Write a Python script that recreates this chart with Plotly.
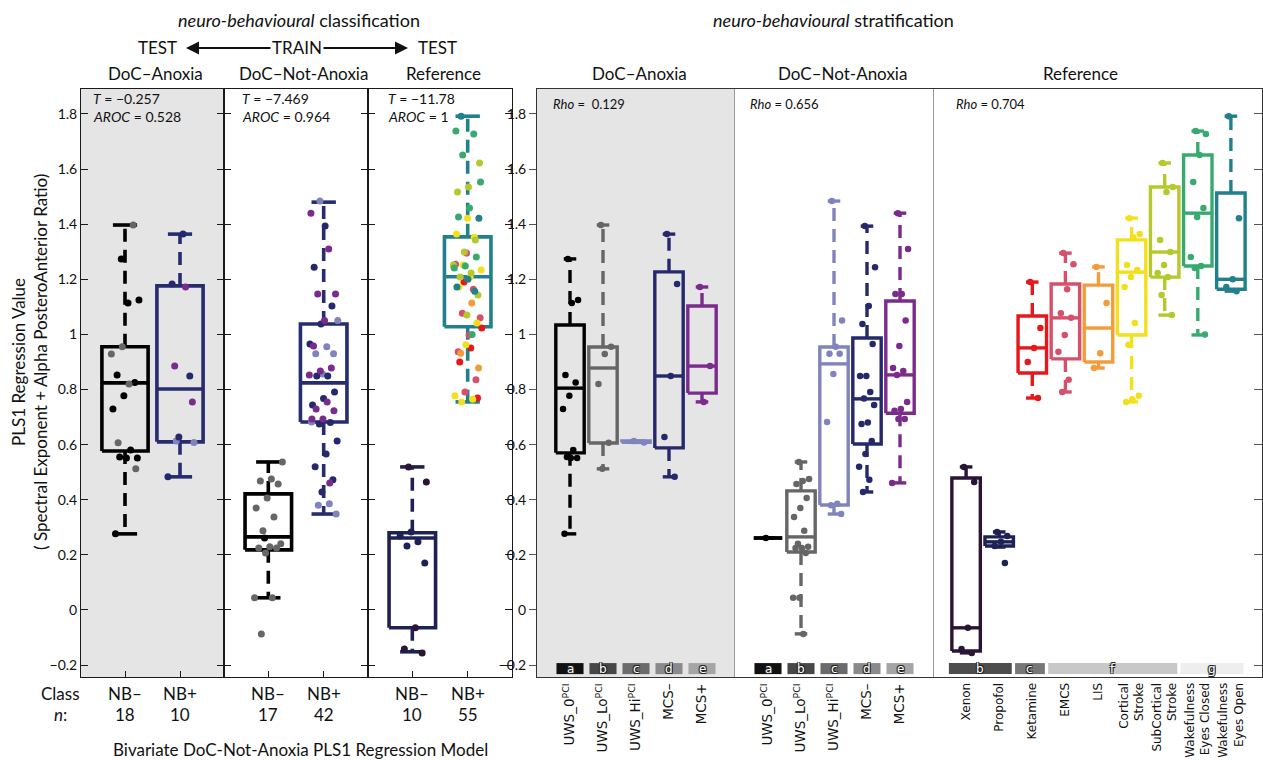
import plotly.graph_objects as go

# ------------------------------------------------------------------ data
# Right-hand stratification groups
ANOX_UWS0 = [1.274, 1.125, 1.114, 0.853, 0.825, 0.777, 0.729, 0.58, 0.555, 0.551, 0.551, 0.276]
ANOX_UWSLO = [1.397, 0.955, 0.929, 0.82, 0.607, 0.512]
ANOX_UWSHI = [0.613, 0.608]
ANOX_MCSM = [1.364, 1.183, 0.849, 0.628, 0.483]
ANOX_MCSP = [1.172, 0.885, 0.755]

NOTANOX_UWS0 = [0.261]
NOTANOX_UWSLO = [0.537, 0.475, 0.468, 0.457, 0.406, 0.37, 0.337, 0.287, 0.24, 0.229, 0.225, 0.225,
                 0.207, 0.044, 0.044, -0.087]
NOTANOX_UWSHI = [1.484, 1.05, 0.955, 0.93, 0.93, 0.856, 0.682, 0.385, 0.38, 0.348]
NOTANOX_MCSM = [1.393, 1.244, 1.103, 1.038, 0.965, 0.849, 0.849, 0.791, 0.767, 0.744, 0.68, 0.675,
                0.613, 0.566, 0.52, 0.472, 0.428]
NOTANOX_MCSP = [1.44, 1.31, 1.147, 1.147, 1.05, 0.958, 0.878, 0.867, 0.853, 0.755, 0.729, 0.723,
                0.693, 0.693, 0.461]

REF_XENON = [0.519, 0.464, -0.065, -0.142, -0.156]
REF_PROPOFOL = [0.283, 0.268, 0.247, 0.232, 0.17]
REF_KETAMINE = [1.19, 1.023, 0.951, 0.9, 0.769]
REF_EMCS = [1.295, 1.255, 1.164, 1.077, 1.06, 0.998, 0.937, 0.835, 0.791]
REF_LIS = [1.245, 1.114, 0.932, 0.878]
REF_CORTICAL = [1.422, 1.364, 1.353, 1.252, 1.234, 1.208, 1.172, 1.041, 0.962, 0.777, 0.765, 0.755]
REF_SUBCORT = [1.622, 1.535, 1.517, 1.343, 1.299, 1.252, 1.223, 1.208, 1.143, 1.07]
REF_EC = [1.738, 1.727, 1.651, 1.553, 1.459, 1.426, 1.281, 1.248, 1.241, 1.0]
REF_EO = [1.792, 1.422, 1.2, 1.172, 1.157]

# Box statistics: [lower whisker, Q1, median, Q3, upper whisker]
CLASS_STATS = {
    "DoC–Anoxia": [[0.276, 0.577, 0.824, 0.955, 1.397], [0.483, 0.61, 0.802, 1.176, 1.364]],
    "DoC–Not-Anoxia": [[0.044, 0.218, 0.265, 0.421, 0.537], [0.348, 0.682, 0.824, 1.038, 1.48]],
    "Reference": [[-0.152, -0.065, 0.261, 0.28, 0.519], [0.755, 1.028, 1.209, 1.354, 1.792]],
}
ANOX_STATS = [[0.276, 0.57, 0.805, 1.034, 1.274], [0.512, 0.606, 0.878, 0.954, 1.397],
              [0.608, 0.608, 0.61, 0.613, 0.613], [0.483, 0.588, 0.849, 1.227, 1.364],
              [0.755, 0.787, 0.885, 1.103, 1.172]]
NOTANOX_STATS = [[0.261, 0.261, 0.261, 0.261, 0.261], [-0.087, 0.21, 0.265, 0.432, 0.537],
                 [0.348, 0.381, 0.893, 0.954, 1.484], [0.428, 0.602, 0.766, 0.987, 1.393],
                 [0.461, 0.714, 0.853, 1.121, 1.44]]
REF_STATS = [[-0.156, -0.149, -0.065, 0.479, 0.519], [0.228, 0.232, 0.247, 0.265, 0.283],
             [0.769, 0.86, 0.951, 1.067, 1.19], [0.791, 0.911, 1.06, 1.183, 1.295],
             [0.878, 0.9, 1.023, 1.179, 1.245], [0.755, 0.998, 1.226, 1.343, 1.422],
             [1.07, 1.208, 1.299, 1.535, 1.622], [0.998, 1.248, 1.44, 1.651, 1.738],
             [1.157, 1.164, 1.2, 1.513, 1.792]]

CLASS_LABELS = ["NB–", "NB+"]
DOC_LABELS = ["UWS_0<sup>PCI</sup>", "UWS_Lo<sup>PCI</sup>", "UWS_Hi<sup>PCI</sup>", "MCS–", "MCS+"]
REF_LABELS = ["Xenon", "Propofol", "Ketamine", "EMCS", "LIS", "Cortical<br>Stroke",
              "SubCortical<br>Stroke", "Wakefulness<br>Eyes Closed", "Wakefulness<br>Eyes Open"]
DOC_LETTERS = ["a", "b", "c", "d", "e"]
REF_LETTERS = [("b", 0, 1), ("c", 2, 2), ("f", 3, 6), ("g", 7, 8)]

CLASS_STATS_TEXT = {"DoC–Anoxia": ("−0.257", "0.528"), "DoC–Not-Anoxia": ("−7.469", "0.964"),
                    "Reference": ("−11.78", "1")}
RHO = ["&nbsp;0.129", "0.656", "0.704"]

Y_TICKS = [-0.2, 0, 0.2, 0.4, 0.6, 0.8, 1.0, 1.2, 1.4, 1.6, 1.8]
Y_TICKTEXT = ["−0.2", "0", "0.2", "0.4", "0.6", "0.8", "1", "1.2", "1.4", "1.6", "1.8"]

# ------------------------------------------------------------------ styles
C_BLACK, C_GRAY, C_LPUR, C_NAVY, C_PURP = "#000000", "#666666", "#8084bd", "#25296b", "#7a2b8c"
REF_COLORS = ["#2b1537", "#1e2153", "#e4191c", "#d6506c", "#f59c3a", "#f2e01c", "#b5c92c",
              "#38aa70", "#21808c"]
DOC_COLORS = [C_BLACK, C_GRAY, C_LPUR, C_NAVY, C_PURP]
DOC_STRIP = ["#111111", "#474747", "#6b6b6b", "#8a8a8a", "#a5a5a5"]
REF_STRIP = {"b": "#4d4d4d", "c": "#777777", "f": "#c8c8c8", "g": "#eeeeee"}
FONT = "Lato"
W, H = 1263, 760
Y_RANGE = [-0.2435, 1.8907]
Y_DOM = [1 - 677 / H, 1 - 89 / H]


def px(x):
    return x / W


def py(y):
    return 1 - y / H


fig = go.Figure()


def jitter(k, half=0.27):
    return ((k * 0.6180339887 + 0.37) % 1.0 - 0.5) * 2 * half


def add_box(ax, ay, x, stats, color, half_w, cap_half, lw=3.6):
    lo, q1, med, q3, hi = stats
    xs = [x - half_w, x + half_w, x + half_w, x - half_w, x - half_w, None,
          x - half_w, x + half_w, None, x - cap_half, x + cap_half, None, x - cap_half, x + cap_half]
    ys = [q1, q1, q3, q3, q1, None, med, med, None, hi, hi, None, lo, lo]
    fig.add_trace(go.Scatter(x=xs, y=ys, mode="lines", line=dict(color=color, width=lw),
                             xaxis=ax, yaxis=ay, hoverinfo="skip", showlegend=False))
    fig.add_trace(go.Scatter(x=[x, x, None, x, x], y=[q3, hi, None, q1, lo], mode="lines",
                             line=dict(color=color, width=lw, dash="13px,8px"),
                             xaxis=ax, yaxis=ay, hoverinfo="skip", showlegend=False))


def add_points(ax, ay, x, groups, size=7, half=0.27):
    k = 0
    for vals, col in groups:
        xs = []
        for _ in vals:
            xs.append(x + jitter(k, half))
            k += 1
        fig.add_trace(go.Scatter(x=xs, y=vals, mode="markers", marker=dict(color=col, size=size),
                                 xaxis=ax, yaxis=ay, hoverinfo="skip", showlegend=False))


def txt(x, y, text, size=17, xanchor="center", **kw):
    d = dict(x=px(x), y=py(y), xref="paper", yref="paper", text=text, showarrow=False,
             xanchor=xanchor, yanchor="middle", font=dict(size=size, family=FONT, color="#111"))
    d.update(kw)
    return d


# ------------------------------------------------------------------ left: classification
class_panels = [
    ("DoC–Anoxia", [[(ANOX_UWS0, C_BLACK), (ANOX_UWSLO, C_GRAY)],
                    [(ANOX_UWSHI, C_LPUR), (ANOX_MCSM, C_NAVY), (ANOX_MCSP, C_PURP)]],
     [C_BLACK, "#262c6e"]),
    ("DoC–Not-Anoxia", [[(NOTANOX_UWS0, C_BLACK), (NOTANOX_UWSLO, C_GRAY)],
                        [(NOTANOX_UWSHI, C_LPUR), (NOTANOX_MCSM, C_NAVY), (NOTANOX_MCSP, C_PURP)]],
     [C_BLACK, "#262c6e"]),
    ("Reference", [[(REF_XENON, REF_COLORS[0]), (REF_PROPOFOL, REF_COLORS[1])],
                   [(REF_KETAMINE, REF_COLORS[2]), (REF_EMCS, REF_COLORS[3]), (REF_LIS, REF_COLORS[4]),
                    (REF_CORTICAL, REF_COLORS[5]), (REF_SUBCORT, REF_COLORS[6]),
                    (REF_EC, REF_COLORS[7]), (REF_EO, REF_COLORS[8])]],
     ["#1e2153", "#21808c"]),
]
left_dom = [(81, 224), (224, 368), (368, 512)]
annotations = []
for i, (name, groups, bcolors) in enumerate(class_panels):
    ax, ay = f"x{i + 1}", f"y{i + 1}"
    for j in range(2):
        add_box(ax, ay, j, CLASS_STATS[name][j], bcolors[j], 0.42, 0.22)
        add_points(ax, ay, j, groups[j], size=7, half=0.26)
        n = sum(len(v) for v, _ in groups[j])
        annotations.append(dict(x=j, xref=ax, y=py(693), yref="paper", text=CLASS_LABELS[j],
                                xanchor="center", yanchor="middle",
                                showarrow=False, font=dict(size=17, family=FONT, color="#111")))
        annotations.append(dict(x=j, xref=ax, y=py(714), yref="paper", text=str(n),
                                xanchor="center", yanchor="middle",
                                showarrow=False, font=dict(size=17, family=FONT, color="#111")))
    tval, aroc = CLASS_STATS_TEXT[name]
    x0 = left_dom[i][0] + [10, 16, 18][i]
    annotations.append(txt(x0, 98, f"<i>T</i> = {tval}", size=14, xanchor="left"))
    annotations.append(txt(x0, 116, f"<i>AROC</i> = {aroc}", size=14, xanchor="left"))
    fig.update_layout(**{
        f"xaxis{i + 1 if i else ''}": dict(domain=[px(left_dom[i][0]), px(left_dom[i][1])], range=[-0.8, 1.8],
                                           showline=True, linecolor="#1a1a1a", linewidth=1, mirror=True,
                                           ticks="inside", ticklen=6, tickcolor="#1a1a1a", tickvals=[0, 1],
                                           showticklabels=False, showgrid=False, zeroline=False,
                                           anchor=f"y{i + 1}"),
        f"yaxis{i + 1 if i else ''}": dict(domain=Y_DOM, range=Y_RANGE, tickvals=Y_TICKS, ticktext=Y_TICKTEXT,
                                           showline=True, linecolor="#1a1a1a", linewidth=1, mirror="ticks",
                                           ticks="inside", ticklen=7, tickcolor="#1a1a1a",
                                           showticklabels=(i == 0), showgrid=False, zeroline=False,
                                           tickfont=dict(size=14, family=FONT, color="#111"),
                                           anchor=f"x{i + 1}"),
    })

# ------------------------------------------------------------------ right: stratification
strat_panels = [
    ([ANOX_UWS0, ANOX_UWSLO, ANOX_UWSHI, ANOX_MCSM, ANOX_MCSP], ANOX_STATS, DOC_COLORS, DOC_LABELS),
    ([NOTANOX_UWS0, NOTANOX_UWSLO, NOTANOX_UWSHI, NOTANOX_MCSM, NOTANOX_MCSP], NOTANOX_STATS, DOC_COLORS,
     DOC_LABELS),
    ([REF_XENON, REF_PROPOFOL, REF_KETAMINE, REF_EMCS, REF_LIS, REF_CORTICAL, REF_SUBCORT, REF_EC, REF_EO],
     REF_STATS, REF_COLORS, REF_LABELS),
]
right_dom = [(537, 735), (735, 933), (933, 1262)]
right_rng = [[-1, 5], [-1, 5], [-1, 8.94]]
label_size = [13.5, 13.5, 12]
shapes = []
letter_font = dict(size=12, family="DejaVu Sans", color="white",
                   shadow="-1px -1px 0 #222, 1px -1px 0 #222, -1px 1px 0 #222, 1px 1px 0 #222")
for i, (vals, stats, cols, labels) in enumerate(strat_panels):
    k = i + 4
    ax, ay = f"x{k}", f"y{k}"
    for j in range(len(vals)):
        add_box(ax, ay, j, stats[j], cols[j], 0.43, 0.19, lw=3.4)
        add_points(ax, ay, j, [(vals[j], cols[j])], size=6.5, half=0.25)
    if i < 2:
        for j, letter in enumerate(DOC_LETTERS):
            shapes.append(dict(type="rect", xref=ax, yref=ay, x0=j - 0.41, x1=j + 0.41, y0=-0.233, y1=-0.193,
                               fillcolor=DOC_STRIP[j], line=dict(width=0)))
            annotations.append(dict(x=j, y=-0.213, xref=ax, yref=ay, text=letter, showarrow=False,
                                    xanchor="center", yanchor="middle", font=letter_font))
    else:
        for letter, a, b in REF_LETTERS:
            shapes.append(dict(type="rect", xref=ax, yref=ay, x0=a - 0.52, x1=b + 0.38, y0=-0.233, y1=-0.193,
                               fillcolor=REF_STRIP[letter], line=dict(width=0)))
            annotations.append(dict(x=(a + b) / 2 - 0.07, y=-0.213, xref=ax, yref=ay, text=letter,
                                    xanchor="center", yanchor="middle", showarrow=False, font=letter_font))
    annotations.append(txt(right_dom[i][0] + [14, 13, 21][i], 104, f"<i>Rho</i> = {RHO[i]}", size=13,
                           xanchor="left"))
    yax = dict(domain=Y_DOM, range=Y_RANGE, tickvals=Y_TICKS, ticktext=Y_TICKTEXT, showgrid=False,
               zeroline=False, anchor=ax, tickfont=dict(size=14, family=FONT, color="#111"))
    if i == 0:
        yax.update(showline=True, linecolor="#333", linewidth=1, mirror=False, ticks="outside", ticklen=7,
                   tickcolor="#555", showticklabels=True)
    elif i == 1:
        yax.update(showline=True, linecolor="#9a9a9a", linewidth=1, mirror=True, ticks="",
                   showticklabels=False)
    else:
        yax.update(showline=True, linecolor="#333", linewidth=1, mirror=False, side="right", ticks="inside",
                   ticklen=8, tickcolor="#555", showticklabels=False)
    fig.update_layout(**{
        f"xaxis{k}": dict(domain=[px(right_dom[i][0]), px(right_dom[i][1])], range=right_rng[i],
                          showline=True, linecolor="#333", linewidth=1, mirror=True, ticks="",
                          tickvals=list(range(len(labels))), ticktext=labels, tickangle=-90,
                          tickfont=dict(size=label_size[i], family="DejaVu Sans", color="#111"),
                          showgrid=False, zeroline=False, anchor=ay),
        f"yaxis{k}": yax,
    })

# grey backgrounds for the DoC–Anoxia panels
for ax, ay in [("x", "y"), ("x4", "y4")]:
    shapes.append(dict(type="rect", xref=f"{ax} domain", yref=f"{ay} domain", x0=0, x1=1, y0=0, y1=1,
                       fillcolor="#e5e5e5", line=dict(width=0), layer="below"))

# ------------------------------------------------------------------ headers & titles
annotations += [
    txt(299, 20, "<i>neuro-behavioural</i> classification", size=18),
    txt(833, 20, "<i>neuro-behavioural</i> stratification", size=18),
    txt(157, 48, "TEST"),
    txt(297, 48, "TRAIN"),
    txt(437, 48, "TEST"),
    txt(155, 74, "DoC–Anoxia"),
    txt(303, 74, "DoC–Not-Anoxia"),
    txt(443, 74, "Reference"),
    txt(639, 74, "DoC–Anoxia"),
    txt(842, 74, "DoC–Not-Anoxia"),
    txt(1080, 74, "Reference"),
    txt(60, 693, "Class"),
    txt(60, 714, "<i>n</i>:"),
    txt(300, 749, "Bivariate DoC-Not-Anoxia PLS1 Regression Model"),
    txt(29, 362, "PLS1 Regression Value<br>( Spectral Exponent + Alpha PosteroAnterior Ratio)", size=17,
        textangle=-90),
]
# arrows
annotations += [
    dict(x=px(186), y=py(48), xref="paper", yref="paper", ax=86, ay=0, text="", showarrow=True,
         arrowhead=2, arrowsize=1.3, arrowwidth=2, arrowcolor="#111"),
    dict(x=px(408), y=py(48), xref="paper", yref="paper", ax=-86, ay=0, text="", showarrow=True,
         arrowhead=2, arrowsize=1.3, arrowwidth=2, arrowcolor="#111"),
]

fig.update_layout(width=W, height=H, margin=dict(l=0, r=0, t=0, b=0), paper_bgcolor="white",
                  plot_bgcolor="rgba(0,0,0,0)", showlegend=False, shapes=shapes, annotations=annotations,
                  font=dict(family=FONT, color="#111"))
fig.write_html("out.html", config={"displayModeBar": False},
               post_script="document.body.style.margin='0px';")
